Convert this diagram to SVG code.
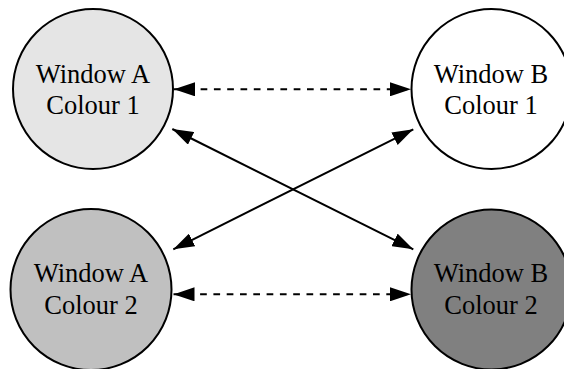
<svg xmlns="http://www.w3.org/2000/svg" width="564" height="369" viewBox="0 0 564 369">
<style>
.node circle{stroke:#000;stroke-width:2}
.node text{font-family:"Liberation Serif","Times New Roman",serif;font-size:26.5px;text-anchor:middle;fill:#000}
.edge{stroke:#000;stroke-width:2;fill:none}
.dash{stroke-dasharray:6.7 6.6}
</style>
<defs>
<marker id="ah" viewBox="0 0 21 14" refX="21" refY="7" markerWidth="21" markerHeight="14" markerUnits="userSpaceOnUse" orient="auto-start-reverse">
<path d="M0,0 L21,7 L0,14 Z" fill="#000"/>
</marker>
</defs>
<rect width="564" height="369" fill="#fff"/>
<g id="a1" class="node"><circle cx="93" cy="89" r="80" fill="#e5e5e5"/><text x="93" y="83">Window A</text><text x="93" y="113.5">Colour 1</text></g>
<g id="b1" class="node"><circle cx="491.5" cy="89" r="80" fill="#fff"/><text x="491" y="83">Window B</text><text x="491" y="113.5">Colour 1</text></g>
<g id="a2" class="node"><circle cx="91" cy="289.5" r="80.5" fill="#c0c0c0"/><text x="91" y="282">Window A</text><text x="91" y="313.5">Colour 2</text></g>
<g id="b2" class="node"><circle cx="491.5" cy="289.5" r="80" fill="#808080"/><text x="491" y="282">Window B</text><text x="491" y="313.5">Colour 2</text></g>
<g id="edges">
<line class="edge dash" x1="174" y1="89.3" x2="411" y2="89.3" marker-start="url(#ah)" marker-end="url(#ah)"/>
<line class="edge dash" x1="173.5" y1="294.3" x2="411" y2="294.3" marker-start="url(#ah)" marker-end="url(#ah)"/>
<line class="edge" x1="172.3" y1="129" x2="413.3" y2="249.3" marker-start="url(#ah)" marker-end="url(#ah)"/>
<line class="edge" x1="173.3" y1="249.3" x2="413.3" y2="129.3" marker-start="url(#ah)" marker-end="url(#ah)"/>
</g>
</svg>
